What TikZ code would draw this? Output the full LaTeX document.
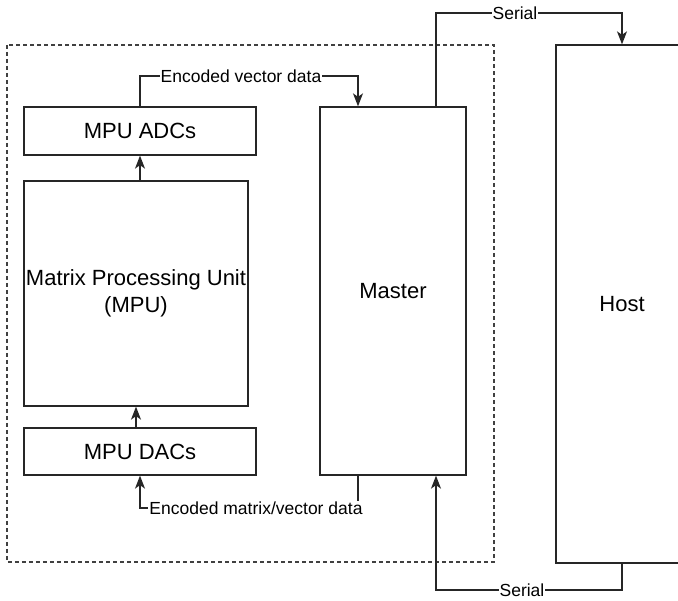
\documentclass[tikz,border=0pt]{standalone}
\usepackage{fontspec}
\setmainfont{Liberation Sans}
\usetikzlibrary{arrows.meta,calc}
\begin{document}
\begin{tikzpicture}[x=1pt,y=-1pt,
  blk/.style={draw=black!85,line width=1.3pt,fill=white,inner sep=0pt,font=\fontsize{22}{27}\selectfont,align=center},
  arr/.style={draw=black!85,line width=1.3pt,-{Stealth[length=13pt,width=10pt,inset=3.5pt]}},
  lbl/.style={fill=white,inner sep=1pt,font=\fontsize{17.5}{20}\selectfont},
  frame/.style={draw=black!75,line width=1.1pt,dash pattern=on 4pt off 3pt}]
\useasboundingbox (0,0) rectangle (678,601);

% enclosure around the processing unit and master
\draw[frame] (7,45) rectangle (494,562);

% blocks
\node[blk,minimum width=232pt,minimum height=48pt] (adc) at (140,131) {MPU ADCs};
\node[blk,minimum width=224pt,minimum height=225pt] (mpu) at (136,293.5) {Matrix Processing Unit\\(MPU)};
\node[blk,minimum width=232pt,minimum height=47pt] (dac) at (140,451.5) {MPU DACs};
\node[blk,minimum width=146pt,minimum height=368pt] (master) at (393,291) {Master};
\node[blk,minimum width=132pt,minimum height=518pt] (host) at (622,304) {Host};

% internal data path
\draw[arr] (mpu.north -| adc) -- (adc.south);
\draw[arr] (dac.north -| mpu) -- (mpu.south);

% encoded vector data: ADCs -> master
\coordinate (ev1) at (140,76);
\coordinate (ev2) at (358,76);
\draw[arr] (adc.north) -- (ev1) -- (ev2) -- (ev2 |- master.north);
\node[lbl] (evl) at (241,76) {Encoded vector data};

% encoded matrix/vector data: master -> DACs
\coordinate (em1) at (358,508);
\coordinate (em2) at (140,508);
\draw[arr] (em1 |- master.south) -- (em1) -- (em2) -- (dac.south);
\node[lbl] (eml) at (256,508) {Encoded matrix/vector data};

% serial link master -> host
\coordinate (s1) at (436,13);
\coordinate (s2) at (622,13);
\draw[arr] (s1 |- master.north) -- (s1) -- (s2) -- (host.north);
\node[lbl] (sl1) at (515,13) {Serial};

% serial link host -> master
\coordinate (s3) at (622,590);
\coordinate (s4) at (436,590);
\draw[arr] (host.south) -- (s3) -- (s4) -- (s4 |- master.south);
\node[lbl] (sl2) at (522,590) {Serial};
\end{tikzpicture}
\end{document}
